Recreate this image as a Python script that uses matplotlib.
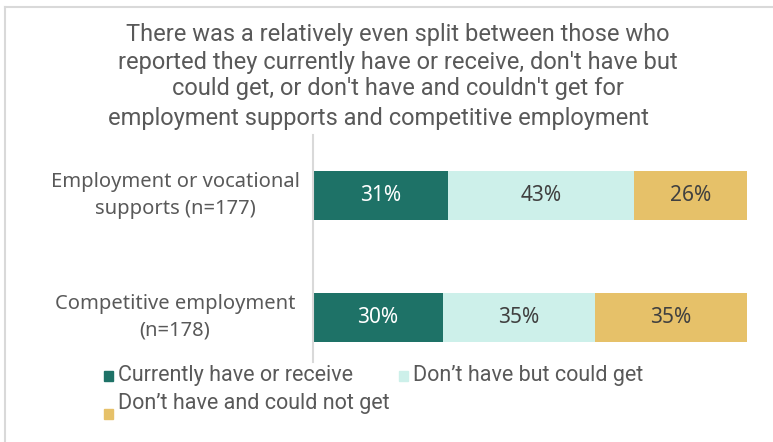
import matplotlib
matplotlib.use('Agg')
import matplotlib.pyplot as plt
from matplotlib.patches import Rectangle
from matplotlib.lines import Line2D

# Data
categories = ['Employment or vocational\nsupports (n=177)', 'Competitive employment\n(n=178)']
series_names = ['Currently have or receive', 'Don\u2019t have but could get', 'Don\u2019t have and could not get']
have_vals = [31, 30]
could_vals = [43, 35]
couldnt_vals = [26, 35]

colors = ['#1e7267', '#cdf0ea', '#e6c169']
text_colors = ['white', '#404040', '#404040']

body_font = 'Noto Sans'
title_font = 'Roboto'

W, H = 773, 442
fig = plt.figure(figsize=(W / 100, H / 100), dpi=100)

# frame lines of the slide
fig.add_artist(Line2D([5 / W, 1], [1 - 7 / H, 1 - 7 / H], color='#d9d9d9', lw=1.5))
fig.add_artist(Line2D([5 / W, 5 / W], [0, 1 - 7 / H], color='#d9d9d9', lw=1.5))

# title
title_lines = ['There was a relatively even split between those who',
               'reported they currently have or receive, don\'t have but',
               'could get, or don\'t have and couldn\'t get for']
for i, line in enumerate(title_lines):
    fig.text(398 / W, 1 - (35 + 27 * i) / H, line, ha='center', va='center',
             fontsize=17, color='#595959', family=title_font)
fig.text(379 / W, 1 - 119 / H, 'employment supports and competitive employment',
         ha='center', va='center', fontsize=17, color='#595959', family=title_font)

# axes spans the grey axis line, 135..362 px
ax = fig.add_axes([313 / W, 1 - 362 / H, 434 / W, 227 / H])

y = [0, 1]
lefts = [0, 0]
for vals, c, tc, name in zip([have_vals, could_vals, couldnt_vals], colors, text_colors, series_names):
    ax.barh(y, vals, left=lefts, height=0.4, color=c, label=name)
    for yi, v, l in zip(y, vals, lefts):
        ax.text(l + v / 2, yi, str(v) + '%', ha='center', va='center',
                color=tc, fontsize=15, family=body_font)
    lefts = [l + v for l, v in zip(lefts, vals)]

ax.set_xlim(0, 100)
ax.set_ylim(1.365, -0.496)
ax.set_xticks([])
ax.set_yticks([])
for s in ['top', 'right', 'bottom']:
    ax.spines[s].set_visible(False)
ax.spines['left'].set_color('#d9d9d9')
ax.spines['left'].set_linewidth(1.5)

for yi, cat in zip(y, categories):
    ax.text((175 - 313) / 434, yi, cat, transform=ax.get_yaxis_transform(),
            ha='center', va='center', fontsize=14.5, color='#595959',
            family=body_font, linespacing=1.45)

# legend, placed by hand like the slide
legend_pos = [(104, 376, 375), (399, 376, 375), (104, 414, 403)]
for (mx, my, ty), c, name in zip(legend_pos, colors, series_names):
    fig.add_artist(Rectangle((mx / W, 1 - (my + 5) / H), 9 / W, 10 / H,
                             color=c, transform=fig.transFigure))
    fig.text((mx + 14) / W, 1 - ty / H, name, ha='left', va='center',
             fontsize=15.5, color='#595959', family=title_font)

fig.savefig('out.png', dpi=100)
